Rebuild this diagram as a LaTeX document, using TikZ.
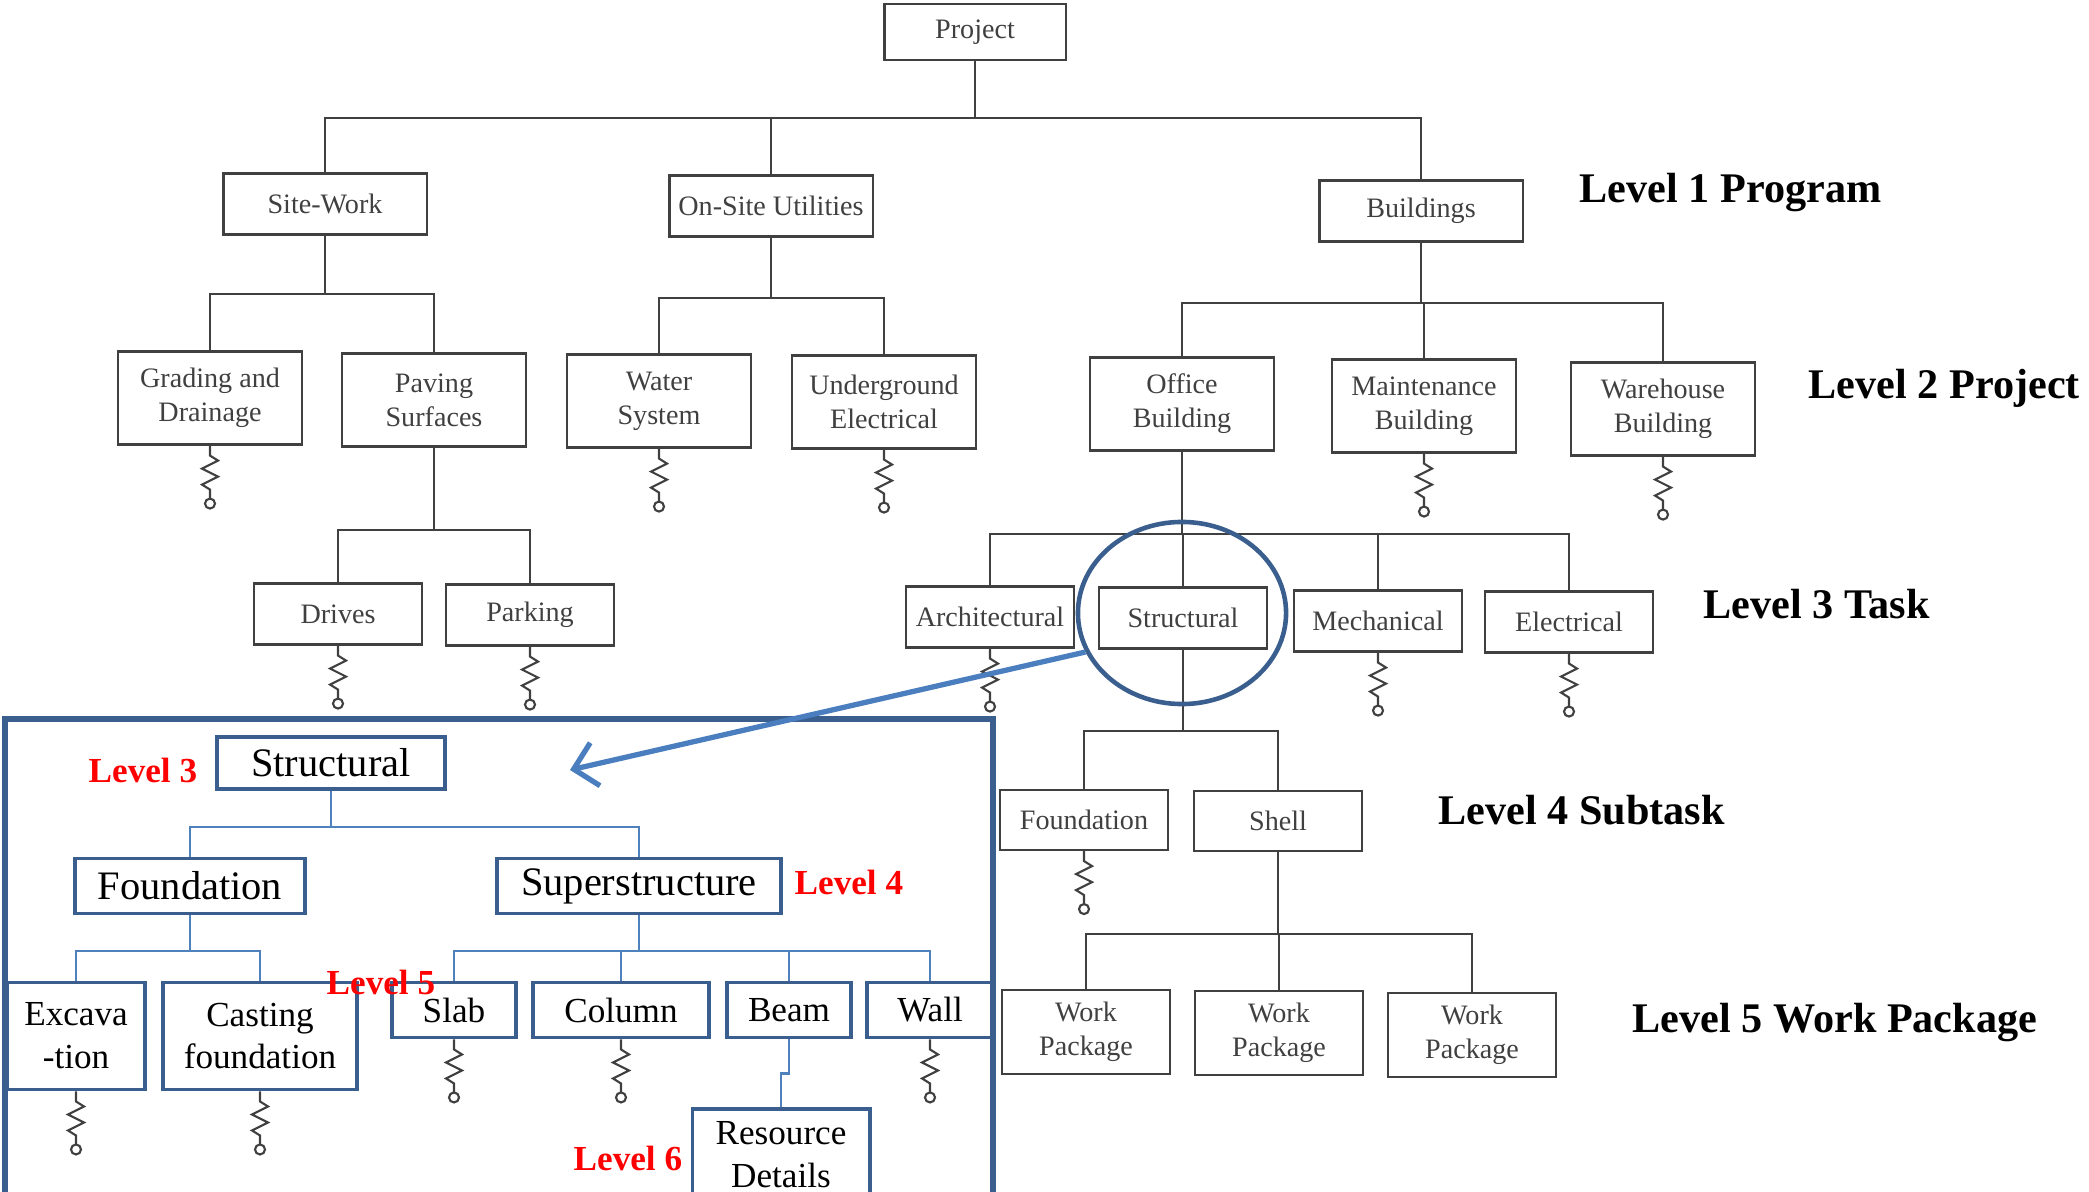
\documentclass[tikz,border=0pt]{standalone}
\usepackage{fontspec}
\setmainfont{Liberation Serif}
\usetikzlibrary{shapes.geometric,arrows.meta}

\definecolor{scan}{HTML}{404040}
\definecolor{frameblue}{HTML}{3A5F8E}
\definecolor{linkblue}{HTML}{4F81BD}
\definecolor{arrowblue}{HTML}{4A7EBE}

\tikzset{
  wire/.style={draw=scan, line width=0.6pt},
  gbox/.style={draw=scan, line width=0.6pt, text=scan, align=center, inner sep=1pt,
    font=\fontsize{8}{9.6}\selectfont, minimum width=1.68cm, minimum height=0.61cm},
  bbox/.style={draw=frameblue, line width=1.1pt, align=center, inner sep=1pt,
    font=\fontsize{10}{12.2}\selectfont, minimum height=0.55cm},
  blink/.style={draw=linkblue, line width=0.7pt},
  levtag/.style={anchor=west, inner sep=0pt, font=\fontsize{12}{14}\selectfont\bfseries},
  redtag/.style={anchor=west, inner sep=0pt, text=red, font=\fontsize{10}{12}\selectfont\bfseries},
  spring/.pic={
    \draw[wire] (0,0) -- (0,10) -- (8,15) -- (-8,23) -- (8,31) -- (-8,39) -- (0,44) -- (0,53);
    \draw[wire] (0,58) circle[radius=0.05cm];
  }
}

\begin{document}
\begin{tikzpicture}[x=0.01cm, y=-0.01cm]
\useasboundingbox (0,0) rectangle (2089,1192);

% program level
\node[gbox, minimum width=1.81cm, minimum height=0.56cm] (project) at (975,32) {Project};
\node[gbox, minimum width=2.03cm] (sitework)  at (325,204)  {Site-Work};
\node[gbox, minimum width=2.03cm] (onsite)    at (771,206)  {On-Site Utilities};
\node[gbox, minimum width=2.03cm] (buildings) at (1421,211) {Buildings};

% project level
\node[gbox, minimum width=1.84cm, minimum height=0.93cm] (grading)   at (210,398)  {Grading and\\Drainage};
\node[gbox, minimum width=1.84cm, minimum height=0.93cm] (paving)    at (434,400)  {Paving\\Surfaces};
\node[gbox, minimum width=1.84cm, minimum height=0.93cm] (water)     at (659,401)  {Water\\System};
\node[gbox, minimum width=1.84cm, minimum height=0.93cm] (undergr)   at (884,402)  {Underground\\Electrical};
\node[gbox, minimum width=1.84cm, minimum height=0.93cm] (office)    at (1182,404) {Office\\Building};
\node[gbox, minimum width=1.84cm, minimum height=0.93cm] (maint)     at (1424,406) {Maintenance\\Building};
\node[gbox, minimum width=1.84cm, minimum height=0.93cm] (warehouse) at (1663,409) {Warehouse\\Building};

% task level
\node[gbox] (drives)  at (338,614)  {Drives};
\node[gbox] (parking) at (530,615)  {Parking};
\node[gbox] (archi)   at (990,617)  {Architectural};
\node[gbox] (struct)  at (1183,618) {Structural};
\node[gbox] (mech)    at (1378,621) {Mechanical};
\node[gbox] (elec)    at (1569,622) {Electrical};

% subtask and work packages
\node[gbox, minimum height=0.60cm] (found) at (1084,820) {Foundation};
\node[gbox, minimum height=0.60cm] (shell) at (1278,821) {Shell};
\node[gbox, minimum height=0.84cm] (wpa) at (1086,1032) {Work\\Package};
\node[gbox, minimum height=0.84cm] (wpb) at (1279,1033) {Work\\Package};
\node[gbox, minimum height=0.84cm] (wpc) at (1472,1035) {Work\\Package};

% tree lines
\foreach \c in {sitework,onsite,buildings}
  \draw[wire] (project.south) -- ++(0,57) -| (\c.north);
\foreach \c in {grading,paving}
  \draw[wire] (sitework.south) -- ++(0,58.5) -| (\c.north);
\foreach \c in {water,undergr}
  \draw[wire] (onsite.south) -- ++(0,60.5) -| (\c.north);
\foreach \c in {office,maint,warehouse}
  \draw[wire] (buildings.south) -- ++(0,60.5) -| (\c.north);
\foreach \c in {drives,parking}
  \draw[wire] (paving.south) -- ++(0,82.5) -| (\c.north);
\foreach \c in {archi,struct,mech,elec}
  \draw[wire] (office.south) -- ++(0,82.5) -| (\c.north);
\foreach \c in {found,shell}
  \draw[wire] (struct.south) -- ++(0,81) -| (\c.north);
\foreach \c in {wpa,wpb,wpc}
  \draw[wire] (shell.south) -- ++(0,81.5) -| (\c.north);

% springs
\foreach \c in {grading,water,undergr,maint,warehouse,drives,parking,archi,mech,elec,found}
  \pic at (\c.south) {spring};

% level names
\node[levtag] (lev1) at (1579,193)  {Level 1 Program};
\node[levtag] (lev2) at (1808,388)  {Level 2 Project};
\node[levtag] (lev3) at (1703,604)  {Level 3 Task};
\node[levtag] (lev4) at (1438,810)  {Level 4 Subtask};
\node[levtag] (lev5) at (1632,1023) {Level 5 Work Package};

% zoomed inset
\draw[frameblue, line width=1.6pt, fill=white] (5,719) rectangle (993,1240);

\node[bbox, minimum width=2.28cm, minimum height=0.52cm, font=\fontsize{11.5}{13}\selectfont] (istruct) at (331,763) {Structural};
\node[bbox, minimum width=2.30cm, font=\fontsize{11.5}{13}\selectfont] (ifound) at (190,886) {Foundation};
\node[bbox, minimum width=2.84cm, font=\fontsize{11.5}{13}\selectfont] (isuper) at (639,886) {Superstructure};
\node[bbox, minimum width=1.38cm, minimum height=1.07cm] (iexcav) at (76,1036)  {Excava\\-tion};
\node[bbox, minimum width=1.94cm, minimum height=1.07cm] (icast)  at (260,1036) {Casting\\foundation};
\node[bbox, minimum width=1.24cm] (islab) at (454,1010) {Slab};
\node[bbox, minimum width=1.76cm] (icol)  at (621,1010) {Column};
\node[bbox, minimum width=1.24cm] (ibeam) at (789,1010) {Beam};
\node[bbox, minimum width=1.26cm] (iwall) at (930,1010) {Wall};
\node[bbox, minimum width=1.77cm, anchor=north, inner sep=3.5pt] (ires) at (781,1107) {Resource\\Details};

\foreach \c in {ifound,isuper}
  \draw[blink] (istruct.south) -- ++(0,36) -| (\c.north);
\foreach \c in {iexcav,icast}
  \draw[blink] (ifound.south) -- ++(0,35.5) -| (\c.north);
\foreach \c in {islab,icol,ibeam,iwall}
  \draw[blink] (isuper.south) -- ++(0,35.5) -| (\c.north);
\draw[blink] (ibeam.south) -- ++(0,34) -| (ires.north);

\foreach \c in {iexcav,icast,islab,icol,iwall}
  \pic at (\c.south) {spring};

\node[redtag] (tag3) at (88,770)   {Level 3};
\node[redtag] (tag4) at (794,882)  {Level 4};
\node[redtag] (tag5) at (326,982)  {Level 5};
\node[redtag] (tag6) at (573,1158) {Level 6};

% highlight and zoom arrow
\node[draw=frameblue, line width=1.3pt, ellipse, inner sep=0pt,
  minimum width=2.08cm, minimum height=1.82cm] (focus) at (1182,613) {};
\coordinate (zoomtip) at (570,770);
\draw[arrowblue, line width=1.5pt, -{Straight Barb[length=2.2mm, width=4.4mm]}] (focus.202) -- (zoomtip);
\end{tikzpicture}
\end{document}
